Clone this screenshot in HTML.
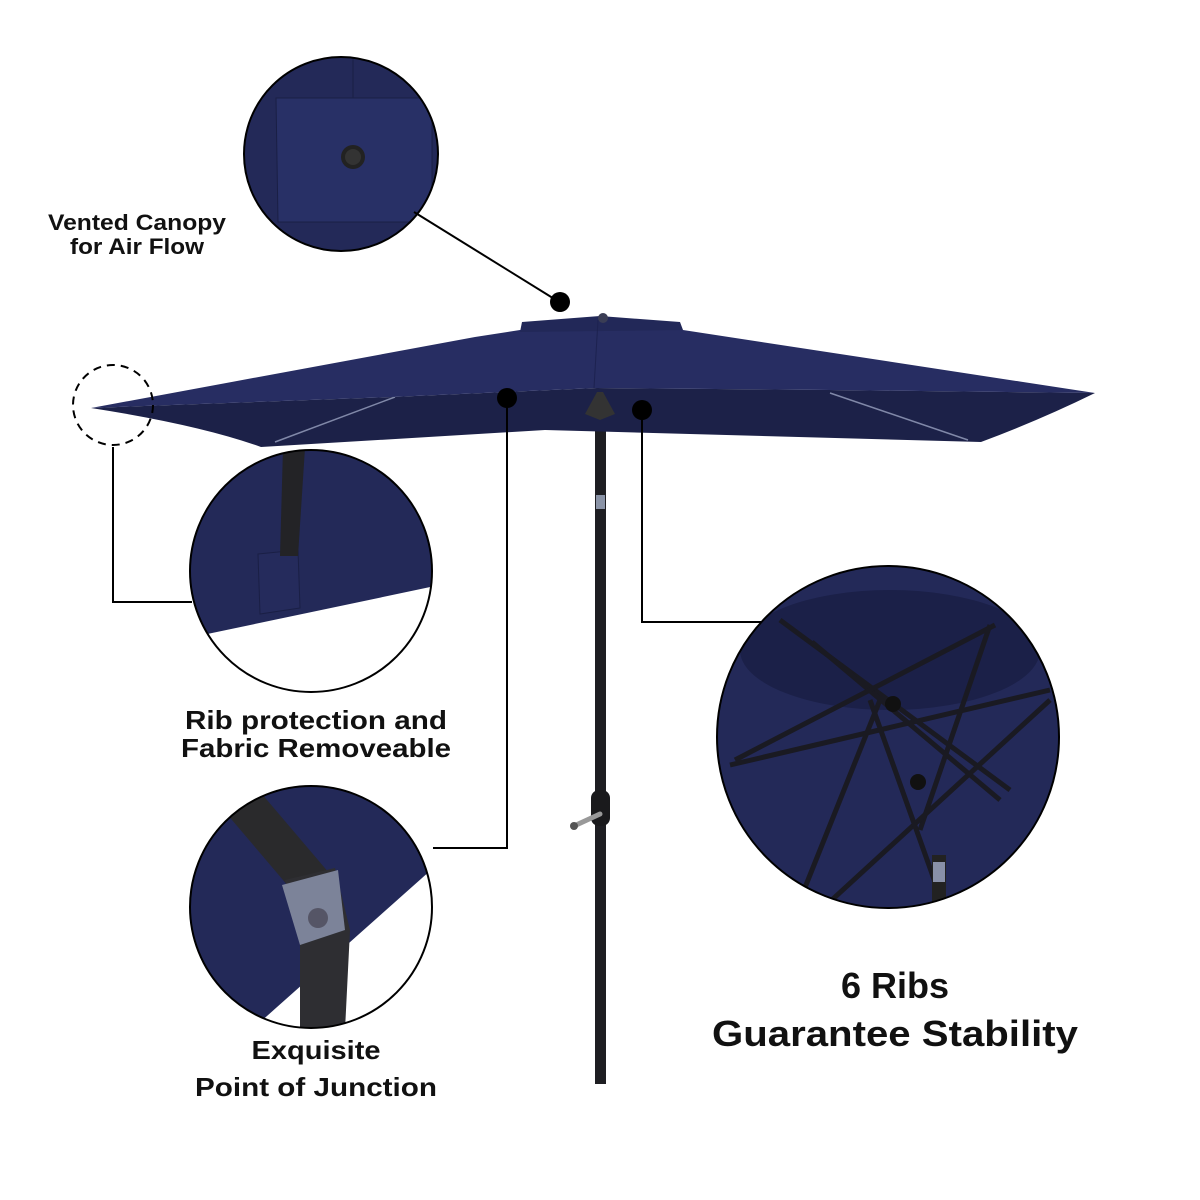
<!DOCTYPE html>
<html><head><meta charset="utf-8"><style>
html,body{margin:0;padding:0;background:#fff;}
svg{display:block;}
text{font-family:"Liberation Sans",sans-serif;font-weight:bold;fill:#111;}
</style></head><body>
<svg width="1200" height="1200" viewBox="0 0 1200 1200" xmlns="http://www.w3.org/2000/svg">
<defs>
<clipPath id="c1"><circle cx="341" cy="154" r="97"/></clipPath>
<clipPath id="c2"><circle cx="311" cy="571" r="121"/></clipPath>
<clipPath id="c3"><circle cx="311" cy="907" r="121"/></clipPath>
<clipPath id="c4"><circle cx="888" cy="737" r="171"/></clipPath>
</defs>

<g clip-path="url(#c1)">
<rect x="240" y="50" width="210" height="210" fill="#232958"/>
<path d="M276 98 L432 98 L432 222 L278 222 Z" fill="#283066" stroke="#1a1f45" stroke-width="1"/>
<line x1="353" y1="58" x2="353" y2="98" stroke="#1a1f45"/>
<circle cx="353" cy="157" r="12" fill="#222"/>
<circle cx="353" cy="157" r="8" fill="#333"/>
</g>
<circle cx="341" cy="154" r="97" fill="none" stroke="#000" stroke-width="2"/>
<line x1="414" y1="212" x2="556" y2="300" stroke="#000" stroke-width="2"/>
<circle cx="560" cy="302" r="10" fill="#000"/>
<text x="137" y="230" font-size="22" text-anchor="middle" textLength="178" lengthAdjust="spacingAndGlyphs">Vented Canopy</text>
<text x="137" y="254" font-size="22" text-anchor="middle" textLength="134" lengthAdjust="spacingAndGlyphs">for Air Flow</text>

<rect x="595" y="400" width="11" height="684" fill="#1e1e22"/>
<rect x="596" y="495" width="9" height="14" fill="#8a93a6"/>
<rect x="591" y="790" width="19" height="36" rx="8" fill="#1a1a1c"/>
<line x1="574" y1="826" x2="600" y2="814" stroke="#999" stroke-width="5" stroke-linecap="round"/>
<circle cx="574" cy="826" r="4" fill="#555"/>

<path d="M91 408 Q200 425 261 447 L545 430 L981 442 Q1040 420 1095 393 L829 390 L597 388 L392 397 Z" fill="#1c2148"/>
<line x1="275" y1="442" x2="395" y2="397" stroke="#8088a8" stroke-width="1.5"/>
<line x1="968" y1="440" x2="830" y2="393" stroke="#8088a8" stroke-width="1.5"/>
<path d="M597 392 L585 414 L600 420 L615 414 L603 392 Z" fill="#333"/>
<path d="M91 408 L475 337 L520 330 L595 318 L683 330 L1095 393 L829 390 L597 388 L392 397 Z" fill="#272d62"/>
<path d="M520 332 L522 322 L600 316 L680 322 L683 330 Z" fill="#222858"/>
<circle cx="603" cy="318" r="5" fill="#3a3d55"/>
<line x1="598" y1="320" x2="594" y2="388" stroke="#1d2250" stroke-width="1"/>

<circle cx="113" cy="405" r="40" fill="none" stroke="#000" stroke-width="2" stroke-dasharray="8 6"/>
<polyline points="113,447 113,602 192,602" fill="none" stroke="#000" stroke-width="2"/>

<g clip-path="url(#c2)">
<rect x="180" y="440" width="270" height="260" fill="#232958"/>
<path d="M180 642 L193 637 L440 585 L440 700 L180 700 Z" fill="#fff"/>
<path d="M258 554 L298 550 L300 608 L260 614 Z" fill="#252b5c" stroke="#1a1f45"/>
<path d="M283 448 L305 448 L298 556 L280 556 Z" fill="#232326"/>
</g>
<circle cx="311" cy="571" r="121" fill="none" stroke="#000" stroke-width="2"/>
<text x="316" y="729" font-size="26" text-anchor="middle" textLength="262" lengthAdjust="spacingAndGlyphs">Rib protection and</text>
<text x="316" y="757" font-size="26" text-anchor="middle" textLength="270" lengthAdjust="spacingAndGlyphs">Fabric Removeable</text>

<g clip-path="url(#c3)">
<rect x="180" y="780" width="270" height="260" fill="#232958"/>
<path d="M240 1040 L440 862 L440 1040 Z" fill="#fff"/>
<path d="M215 800 L250 780 L335 880 L300 900 Z" fill="#2a2a2c"/>
<path d="M285 880 L335 868 L350 930 L345 1030 L300 1030 L300 940 Z" fill="#2e2e32"/>
<path d="M282 885 L338 870 L345 930 L300 945 Z" fill="#7c8399"/>
<circle cx="318" cy="918" r="10" fill="#556"/>
</g>
<circle cx="311" cy="907" r="121" fill="none" stroke="#000" stroke-width="2"/>
<text x="316" y="1059" font-size="26" text-anchor="middle" textLength="129" lengthAdjust="spacingAndGlyphs">Exquisite</text>
<text x="316" y="1096" font-size="26" text-anchor="middle" textLength="242" lengthAdjust="spacingAndGlyphs">Point of Junction</text>

<circle cx="507" cy="398" r="10" fill="#000"/>
<polyline points="507,398 507,848 433,848" fill="none" stroke="#000" stroke-width="2"/>
<circle cx="642" cy="410" r="10" fill="#000"/>
<polyline points="642,410 642,622 780,622" fill="none" stroke="#000" stroke-width="2"/>

<g clip-path="url(#c4)">
<rect x="710" y="560" width="360" height="360" fill="#232958"/>
<ellipse cx="890" cy="650" rx="150" ry="60" fill="#1b2048"/>
<g stroke="#1a1a22" stroke-width="5" fill="none">
<line x1="780" y1="620" x2="1010" y2="790"/>
<line x1="812" y1="642" x2="1000" y2="800"/>
<line x1="995" y1="625" x2="735" y2="760"/>
<line x1="990" y1="625" x2="920" y2="830"/>
<line x1="730" y1="765" x2="1050" y2="690"/>
<line x1="1050" y1="700" x2="810" y2="920"/>
<line x1="870" y1="700" x2="945" y2="910"/>
<line x1="880" y1="700" x2="800" y2="900"/>
</g>
<circle cx="893" cy="704" r="8" fill="#111"/>
<circle cx="918" cy="782" r="8" fill="#111"/>
<rect x="932" y="855" width="14" height="70" fill="#222"/>
<rect x="933" y="862" width="12" height="20" fill="#8890a8"/>
</g>
<circle cx="888" cy="737" r="171" fill="none" stroke="#000" stroke-width="2"/>

<text x="895" y="998" font-size="36" text-anchor="middle">6 Ribs</text>
<text x="895" y="1046" font-size="36" text-anchor="middle" textLength="366" lengthAdjust="spacingAndGlyphs">Guarantee Stability</text>
</svg>
</body></html>
